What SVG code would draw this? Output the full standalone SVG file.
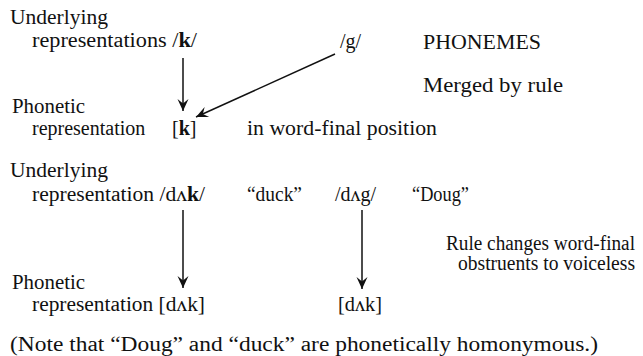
<svg xmlns="http://www.w3.org/2000/svg" width="643" height="356" viewBox="0 0 643 356" font-family="'Liberation Serif', 'Times New Roman', serif" font-size="20">
<style>
.t{font-family:'Liberation Serif','Times New Roman',serif;font-size:20px;fill:#111}
.b{font-weight:bold}
.c{stroke:#111;stroke-width:1.5;fill:none}
</style>
<defs>
<marker id="ah" markerUnits="userSpaceOnUse" markerWidth="16" markerHeight="14" viewBox="-13 -7 16 14" refX="0" refY="0" orient="auto">
<path d="M0,0 L-12,-5.5 L-7.5,0 L-12,5.5 z" fill="#111"/>
</marker>
</defs>
<rect width="643" height="356" fill="#fff"/>
<g id="labels">
<text class="t" x="10" y="24" textLength="98" lengthAdjust="spacingAndGlyphs">Underlying</text>
<text class="t" x="12" y="113" textLength="73" lengthAdjust="spacingAndGlyphs">Phonetic</text>
<text class="t" x="10" y="177" textLength="98" lengthAdjust="spacingAndGlyphs">Underlying</text>
<text class="t" x="12" y="289" textLength="73" lengthAdjust="spacingAndGlyphs">Phonetic</text>
</g>
<g id="node-k-underlying"><text class="t" x="32" y="47" textLength="165" lengthAdjust="spacingAndGlyphs">representations /<tspan class="b">k</tspan>/</text></g>
<g id="node-g-underlying"><text class="t" x="340" y="48">/g/</text></g>
<g id="note-phonemes"><text class="t" x="423" y="49" textLength="118" lengthAdjust="spacingAndGlyphs">PHONEMES</text></g>
<g id="note-merged"><text class="t" x="423" y="92" textLength="140" lengthAdjust="spacingAndGlyphs">Merged by rule</text></g>
<g id="node-k-phonetic">
<text class="t" x="32" y="135">representation</text>
<text class="t" x="172" y="135">[<tspan class="b">k</tspan>]</text>
</g>
<g id="note-position"><text class="t" x="247" y="135" textLength="190" lengthAdjust="spacingAndGlyphs">in word-final position</text></g>
<g id="node-dak-underlying"><text class="t" x="32" y="201" textLength="173" lengthAdjust="spacingAndGlyphs">representation /dʌ<tspan class="b">k</tspan>/</text></g>
<g id="gloss-duck"><text class="t" x="247" y="201" textLength="55" lengthAdjust="spacingAndGlyphs">“duck”</text></g>
<g id="node-dag-underlying"><text class="t" x="335" y="201">/dʌg/</text></g>
<g id="gloss-doug"><text class="t" x="412" y="201" textLength="57" lengthAdjust="spacingAndGlyphs">“Doug”</text></g>
<g id="note-rule">
<text class="t" x="446" y="250" textLength="189" lengthAdjust="spacingAndGlyphs">Rule changes word-final</text>
<text class="t" x="458" y="270" textLength="177" lengthAdjust="spacingAndGlyphs">obstruents to voiceless</text>
</g>
<g id="node-dak-phonetic-1"><text class="t" x="32" y="311" textLength="173" lengthAdjust="spacingAndGlyphs">representation [dʌk]</text></g>
<g id="node-dak-phonetic-2"><text class="t" x="338" y="311" textLength="44" lengthAdjust="spacingAndGlyphs">[dʌk]</text></g>
<g id="note-homonymous"><text class="t" x="10" y="351" textLength="588" lengthAdjust="spacingAndGlyphs">(Note that “Doug” and “duck” are phonetically homonymous.)</text></g>
<g id="connectors">
<line class="c" x1="183" y1="58" x2="183" y2="111" marker-end="url(#ah)"/>
<line class="c" x1="335" y1="54" x2="196" y2="117" marker-end="url(#ah)"/>
<line class="c" x1="183" y1="210" x2="183" y2="288" marker-end="url(#ah)"/>
<line class="c" x1="362" y1="210" x2="362" y2="289" marker-end="url(#ah)"/>
</g>
</svg>
